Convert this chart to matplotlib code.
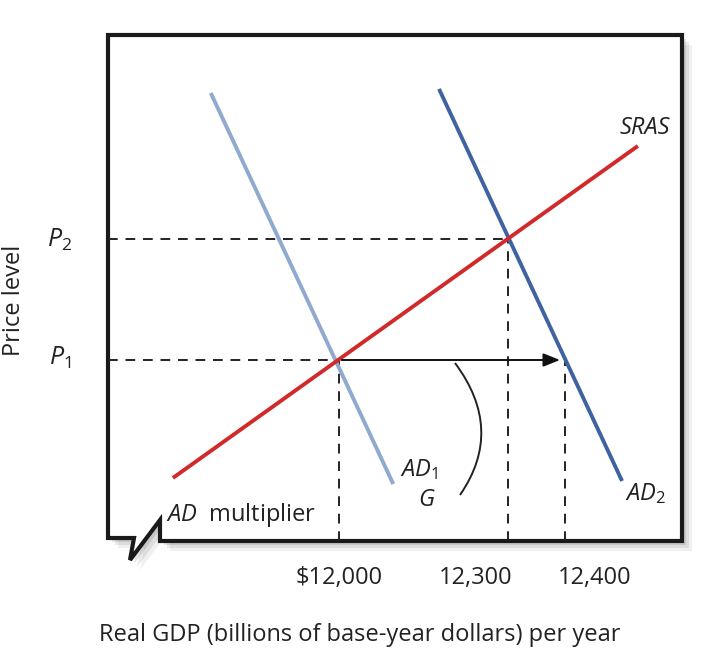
import matplotlib
matplotlib.use("Agg")
import matplotlib.pyplot as plt
from matplotlib.path import Path
from matplotlib.patches import PathPatch, Polygon

plt.rcParams['font.family'] = ['Open Sans', 'DejaVu Sans']
plt.rcParams['mathtext.fontset'] = 'custom'
plt.rcParams['mathtext.it'] = 'Open Sans:italic'
plt.rcParams['mathtext.rm'] = 'Open Sans'

# data
gdp_ticks = [12000, 12300, 12400]
gdp_tick_labels = ["$12,000", "12,300", "12,400"]
P1, P2 = 100, 110
sras_x = [11706, 12529]; sras_y = [90.25, 117.69]
ad1_x = [11773, 12096]; ad1_y = [122.07, 89.75]
ad2_x = [12177, 12501]; ad2_y = [122.4, 90.0]

W, H = 720, 655
fig = plt.figure(figsize=(7.2, 6.55), dpi=100)
L, R, T, B = 108, 682, 35, 541
ax = fig.add_axes([L/W, 1-B/H, (R-L)/W, (B-T)/H])

def X(px): return 12000 + (px-339)/0.565
def Y(py): return 100 - (py-360)/12.1
ax.set_xlim(X(L), X(R)); ax.set_ylim(Y(B), Y(T))
ax.axis('off')

def fp(pts): return [(x/W, 1-y/H) for x, y in pts]
outline = [(108,35),(682,35),(682,541),(160,541),(160,520),(130,560),(134,538),(108,538)]
for off, a in [(10,0.06),(7,0.08),(4,0.1)]:
    fig.patches.append(Polygon(fp([(x+off, y+off) for x, y in outline]), closed=True,
                               transform=fig.transFigure, fc='k', ec='none', alpha=a, zorder=0))
fig.patches.append(Polygon(fp(outline), closed=True, transform=fig.transFigure,
                           fc='white', ec='#1a1a1a', lw=3, zorder=1))
ax.set_zorder(2); ax.patch.set_visible(False)

dk = dict(color='#222222', lw=1.4, ls=(0, (5, 4)))
ax.plot([X(L), 12300], [P2, P2], **dk)
ax.plot([X(L), 12000], [P1, P1], **dk)
ax.plot([12000, 12000], [Y(B), P1], **dk)
ax.plot([12300, 12300], [Y(B), P2], **dk)
ax.plot([12400, 12400], [Y(B), P1], **dk)

ax.plot(ad1_x, ad1_y, color='#8fa9cf', lw=2.8, solid_capstyle='butt')
ax.plot(ad2_x, ad2_y, color='#3f62a0', lw=2.8, solid_capstyle='butt')
ax.plot(sras_x, sras_y, color='#d12a2a', lw=2.8, solid_capstyle='butt')

ax.annotate('', xy=(12396, P1), xytext=(12000, P1),
            arrowprops=dict(arrowstyle='-|>,head_length=1.0,head_width=0.4', color='#111111', lw=1.4))

arc = Path([(X(455), Y(363)), (X(505), Y(430)), (X(460), Y(495))],
           [Path.MOVETO, Path.CURVE3, Path.CURVE3])
ax.add_patch(PathPatch(arc, fc='none', ec='#222222', lw=1.4))

fs = 17
kw = dict(fontsize=fs, color='#222222')
ax.text(X(645), Y(128), 'SRAS', style='italic', ha='center', va='center', **kw)
ax.text(X(400), Y(470), r'$\mathit{AD}_1$', ha='left', va='center', **kw)
ax.text(X(427), Y(500), r'$\mathit{G}$', ha='center', va='center', **kw)
ax.text(X(625), Y(494), r'$\mathit{AD}_2$', ha='left', va='center', **kw)
ax.text(X(166), Y(515), r'$\mathit{AD}$  multiplier', ha='left', va='center', **kw)

for g, lab, px in zip(gdp_ticks, gdp_tick_labels, [339, 476, 595]):
    fig.text(px/W, 1-578/H, lab.replace('$', r'\$'), ha='center', va='center', **kw)
fig.text(360/W, 1-635/H, 'Real GDP (billions of base-year dollars) per year', ha='center', va='center', **kw)
fig.text(14/W, 1-300/H, 'Price level', rotation=90, ha='center', va='center', **kw)
fig.text(60/W, 1-240/H, r'$\mathit{P}_2$', ha='center', va='center', fontsize=18, color='#222222')
fig.text(60/W, 1-358/H, r'$\mathit{P}_1$', ha='center', va='center', fontsize=18, color='#222222')

fig.savefig('out.png', dpi=100, facecolor='white')
